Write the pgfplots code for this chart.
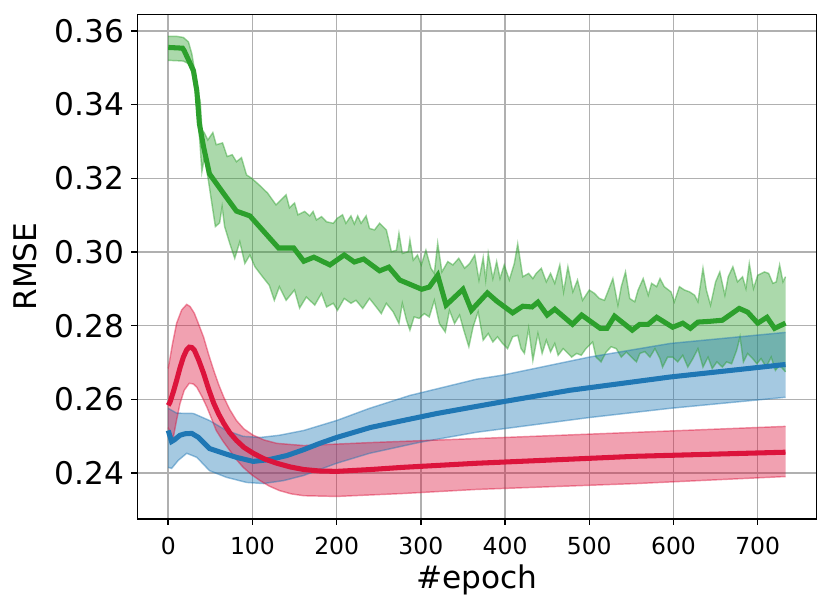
\documentclass[border=0pt]{standalone}
\usepackage{fontspec}
\setmainfont{DejaVu Sans}
\usepackage{pgfplots}
\pgfplotsset{compat=1.18}
\usepgfplotslibrary{fillbetween}

\definecolor{tabgreen}{HTML}{2CA02C}
\definecolor{tabblue}{HTML}{1F77B4}
\definecolor{crimson}{HTML}{DC143C}

\begin{document}
\begin{tikzpicture}
\begin{axis}[
    at={(76.1pt,49.9pt)}, anchor=south west,
    scale only axis, width=376.5pt, height=279.7pt,
    xmin=-36.7, xmax=770,
    ymin=0.2276, ymax=0.3645,
    xtick={0,100,200,300,400,500,600,700},
    ytick={0.24,0.26,0.28,0.30,0.32,0.34,0.36},
    /pgf/number format/assume math mode=true,
    scaled y ticks=false,
    tick pos=left, tick align=outside,
    major tick length=3.3pt,
    every tick/.style={black, line width=0.8pt},
    axis line style={black, line width=0.8pt},
    grid=major,
    major grid style={color=black!31, line width=0.8pt},
    xticklabel style={font=\fontsize{13}{15}\selectfont, anchor=north, inner sep=0pt, yshift=-6.7pt},
    yticklabel style={/pgf/number format/fixed, /pgf/number format/fixed zerofill,
        /pgf/number format/precision=2,
        font=\fontsize{17.3}{20}\selectfont, anchor=east, inner sep=0pt, xshift=-3.7pt},
    xlabel={\#epoch}, ylabel={RMSE},
    label style={font=\fontsize{17.3}{20}\selectfont},
    xlabel style={at={(axis description cs:0.5,-0.1387)}, anchor=base, inner sep=0pt},
    ylabel style={at={(axis description cs:-0.1477,0.5)}, anchor=base, inner sep=0pt},
]

% ---- green band (noisy) ----
\addplot[name path=gu, tabgreen, draw opacity=0.45, line width=0.8pt] coordinates {
(0,0.3585) (10,0.3585) (18,0.3582) (24,0.3570) (28,0.3538) (32,0.3484) (36,0.3429)
(38,0.3409) (40,0.3332) (43,0.3323) (47,0.3304) (53,0.3324) (57,0.3291) (64.5,0.3296)
(70,0.3259) (76,0.3264) (81,0.3245) (87,0.3256) (93,0.3209) (98.6,0.3201) (108,0.3182)
(118,0.3160) (128,0.3128) (140,0.3155) (144,0.3120) (150,0.3133) (154,0.3101) (162,0.3110)
(168,0.3098) (172,0.3110) (176,0.3087) (182,0.3096) (188,0.3082) (196,0.3078) (201,0.3092)
(207,0.3101) (211,0.3078) (217,0.3098) (221,0.3076) (225,0.3098) (229,0.3078) (235,0.3098)
(239,0.3064) (245,0.3060) (251,0.3078) (259,0.3060) (265,0.3001) (271,0.3005) (274,0.3051)
(278,0.2996) (285,0.3001) (287,0.3033) (291,0.2978) (296,0.2992) (300.5,0.2965) (306,0.3005)
(312,0.2956) (316,0.2942) (320,0.3024) (325,0.2946) (332,0.2974) (338,0.2965) (345,0.2983)
(352,0.2956) (358,0.2969) (364,0.2992) (369,0.2924) (374,0.2985) (377,0.2925) (380,0.2996)
(385.5,0.2928) (390,0.2974) (394,0.2928) (399,0.2965) (405,0.2924) (411,0.2969) (415,0.3022)
(421,0.2933) (428,0.2942) (433,0.2928) (437,0.2942) (443,0.2956) (449,0.2919) (454,0.2942)
(459,0.2915) (465,0.2965) (469.5,0.2892) (474.6,0.2960) (480.5,0.2892) (486,0.2924) (492,0.2869)
(500,0.2897) (506,0.2888) (512,0.2874) (518,0.2869) (522,0.2892) (528,0.2928) (534,0.2856)
(538,0.2906) (543,0.2946) (548,0.2874) (554,0.2865) (558,0.2897) (564,0.2928) (570,0.2883)
(574,0.2915) (580,0.2906) (584,0.2928) (589,0.2906) (597,0.2892) (601,0.2865) (607,0.2906)
(613,0.2897) (619,0.2892) (625,0.2883) (629,0.2865) (635,0.2956) (639,0.2897) (644,0.2856)
(650,0.2919) (655,0.2946) (661,0.2883) (665,0.2933) (670.5,0.2960) (676,0.2919) (682,0.2933)
(686,0.2901) (690,0.2969) (695,0.2901) (700,0.2937) (708,0.2946) (713,0.2942) (718,0.2915)
(722,0.2919) (726,0.2965) (730,0.2919) (733,0.2933)
};
\addplot[name path=gl, tabgreen, draw opacity=0.45, line width=0.8pt] coordinates {
(0,0.3520) (10,0.3519) (18,0.3518) (24,0.3511) (28,0.3488) (32,0.3438) (36,0.3348)
(38,0.3285) (40,0.3218) (43,0.3259) (47,0.3205) (53,0.3114) (56,0.3069) (61,0.3079)
(64,0.3123) (67,0.3069) (73,0.3024) (79,0.2983) (85,0.3028) (91,0.2969) (97,0.2992)
(103,0.2960) (112,0.2933) (120,0.2910) (126,0.2869) (132,0.2906) (140,0.2869) (150,0.2897)
(156,0.2848) (164,0.2878) (174,0.2856) (182,0.2888) (188,0.2851) (196,0.2861) (201,0.2842)
(209,0.2874) (217,0.2861) (223,0.2869) (231,0.2847) (239,0.2874) (247,0.2851) (253,0.2833)
(259,0.2861) (267,0.2838) (274,0.2806) (278,0.2861) (283,0.2815) (287,0.2788) (292,0.2824)
(298,0.2820) (304,0.2833) (310,0.2824) (316,0.2869) (322,0.2806) (329,0.2783) (334,0.2842)
(340,0.2806) (346,0.2829) (351,0.2788) (357,0.2743) (362,0.2797) (368,0.2838) (374,0.2761)
(380,0.2779) (385.5,0.2756) (391,0.2770) (397,0.2752) (403,0.2738) (409,0.2770) (415,0.2774)
(419,0.2738) (423,0.2725) (428,0.2793) (433,0.2706) (439,0.2779) (444,0.2725) (449,0.2761)
(454,0.2729) (459,0.2752) (463,0.2720) (469,0.2738) (473,0.2729) (479,0.2715) (485,0.2725)
(490.5,0.2720) (496,0.2738) (504,0.2756) (508,0.2715) (514,0.2702) (520,0.2729) (526,0.2743)
(532,0.2738) (538,0.2715) (544,0.2729) (550,0.2715) (556,0.2702) (560,0.2725) (566,0.2730)
(572,0.2715) (578,0.2738) (584,0.2711) (587,0.2688) (593,0.2715) (599,0.2715) (605,0.2702)
(611,0.2720) (617,0.2688) (623,0.2711) (629,0.2738) (635,0.2688) (641,0.2715) (646,0.2684)
(651.5,0.2702) (658,0.2688) (663,0.2702) (669,0.2697) (675,0.2734) (679,0.2770) (683,0.2702)
(688,0.2725) (694,0.2711) (699,0.2697) (704,0.2711) (710,0.2688) (716,0.2715) (721,0.2679)
(726,0.2693) (733,0.2675)
};
\addplot[fill=tabgreen, fill opacity=0.4, draw=none] fill between[of=gu and gl];

% ---- blue band ----
\addplot[name path=bu, tabblue, draw opacity=0.45, line width=0.8pt] coordinates {
(0,0.2576) (10,0.2563) (30,0.2562) (49,0.2543) (69,0.2516) (89,0.2500) (109,0.2497)
(132,0.2503) (161,0.2516) (200,0.2543) (239,0.2576) (287,0.2611) (366,0.2655) (397,0.2666)
(500,0.2715) (596,0.2752) (733,0.2782)
};
\addplot[name path=bl, tabblue, draw opacity=0.45, line width=0.8pt] coordinates {
(0,0.2416) (4,0.2413) (12,0.2435) (22,0.2454) (34,0.2443) (49,0.2407) (69,0.2389)
(93,0.2375) (113,0.2372) (137,0.2380) (161,0.2394) (200,0.2427) (239,0.2454) (299,0.2484)
(366,0.2511) (500,0.2551) (596,0.2576) (733,0.2606)
};
\addplot[fill=tabblue, fill opacity=0.4, draw=none] fill between[of=bu and bl];

% ---- red band ----
\addplot[name path=ru, crimson, draw opacity=0.45, line width=0.8pt] coordinates {
(0,0.2684) (5,0.2750) (10,0.2807) (16,0.2843) (22,0.2858) (26,0.2852) (31,0.2834)
(36,0.2805) (42,0.2769) (48,0.2722) (54,0.2679) (60,0.2640) (66,0.2606) (73,0.2573)
(81,0.2543) (90,0.2520) (101,0.2503) (114,0.2490) (129,0.2481) (161,0.2475) (239,0.2483)
(366,0.2494) (556,0.2511) (733,0.2527)
};
\addplot[name path=rl, crimson, draw opacity=0.45, line width=0.8pt] coordinates {
(0,0.2524) (3,0.2505) (6,0.2497) (10,0.2545) (14,0.2589) (19,0.2625) (25,0.2644)
(30,0.2642) (34,0.2633) (40,0.2608) (46,0.2579) (52,0.2545) (57,0.2516) (65,0.2487)
(73,0.2462) (81,0.2437) (89,0.2416) (99,0.2396) (109,0.2380) (120,0.2365) (132,0.2353)
(146,0.2344) (161,0.2339) (200,0.2337) (279,0.2345) (366,0.2356) (556,0.2372) (733,0.2391)
};
\addplot[fill=crimson, fill opacity=0.4, draw=none] fill between[of=ru and rl];

% ---- mean curves ----
\addplot[tabgreen, line width=2.8pt] coordinates {
(0,0.3555) (17,0.3553) (19,0.3546) (30,0.3492) (34,0.3437) (37,0.3348) (42,0.3285)
(49,0.3212) (66,0.3158) (81,0.3111) (97,0.3098) (113,0.3057) (131,0.3011) (149,0.3011)
(161,0.2975) (173,0.2986) (192,0.2965) (209,0.2992) (221,0.2973) (232,0.2981) (251,0.2949)
(262,0.2959) (275,0.2924) (301,0.2899) (310,0.2905) (320,0.2937) (330,0.2856) (350,0.2899)
(360,0.2842) (379,0.2889) (390,0.2867) (409,0.2835) (421,0.2853) (432,0.2851) (439,0.2864)
(450,0.2829) (459,0.2845) (480,0.2804) (491,0.2829) (513,0.2793) (521,0.2793) (530,0.2826)
(551,0.2788) (560,0.2804) (570,0.2804) (580,0.2823) (599,0.2796) (611,0.2807) (620,0.2793)
(629,0.2810) (643,0.2812) (658,0.2815) (678,0.2847) (688,0.2837) (700,0.2807) (711,0.2823)
(720,0.2793) (733,0.2807)
};
\addplot[tabblue, line width=2.8pt] coordinates {
(0,0.2516) (4,0.2486) (7,0.2490) (14,0.2503) (20,0.2507) (28,0.2508) (36,0.2497)
(49,0.2467) (66,0.2454) (81,0.2443) (101,0.2432) (120,0.2437) (141,0.2448) (161,0.2464)
(180,0.2481) (200,0.2497) (240,0.2524) (279,0.2543) (319,0.2562) (358,0.2578) (400,0.2595)
(477,0.2625) (596,0.2661) (733,0.2695)
};
\addplot[crimson, line width=2.8pt] coordinates {
(0,0.2584) (2,0.2592) (6,0.2620) (10,0.2652) (14,0.2686) (18,0.2715) (22,0.2735)
(25,0.2742) (28,0.2741) (31,0.2734) (36,0.2708) (42,0.2671) (48,0.2628) (54,0.2590)
(60,0.2560) (66,0.2535) (73,0.2510) (81,0.2489) (90,0.2470) (101,0.2454) (114,0.2439)
(129,0.2427) (145,0.2417) (161,0.2410) (180,0.2406) (200,0.2405) (240,0.2410) (279,0.2416)
(366,0.2427) (556,0.2446) (733,0.2457)
};
\end{axis}
\pgfresetboundingbox
\path[use as bounding box] (0,0) rectangle (460pt,337.5pt);
\end{tikzpicture}
\end{document}
